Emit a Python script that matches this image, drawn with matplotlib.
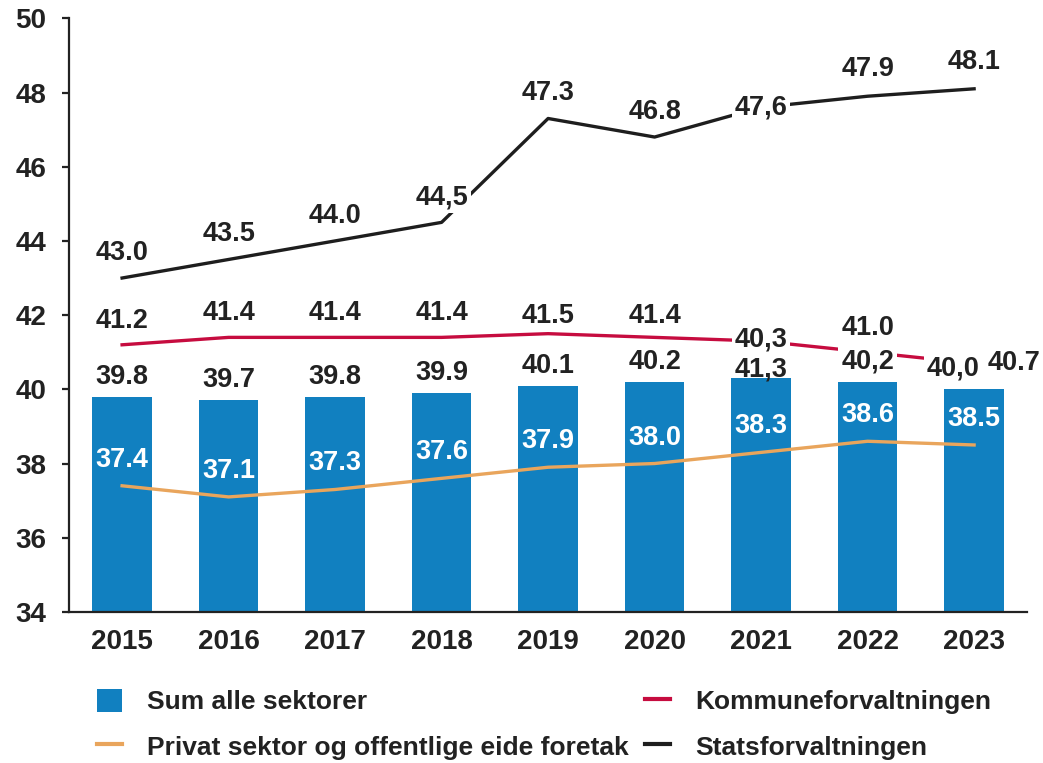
import numpy as np
import matplotlib
matplotlib.use("Agg")
import matplotlib.pyplot as plt
from matplotlib.patches import Patch
from matplotlib.lines import Line2D

# Data per year
years = ["2015", "2016", "2017", "2018", "2019", "2020", "2021", "2022", "2023"]
sum_alle = [39.8, 39.7, 39.8, 39.9, 40.1, 40.2, 40.3, 40.2, 40.0]
kommune = [41.2, 41.4, 41.4, 41.4, 41.5, 41.4, 41.3, 41.0, 40.7]
privat = [37.4, 37.1, 37.3, 37.6, 37.9, 38.0, 38.3, 38.6, 38.5]
stat = [43.0, 43.5, 44.0, 44.5, 47.3, 46.8, 47.6, 47.9, 48.1]

BLUE = "#1180c0"
RED = "#c60c3f"
ORANGE = "#e9a55c"
BLACK = "#1e1e1e"
TXT = "#222222"

plt.rcParams["font.family"] = ["Liberation Sans", "DejaVu Sans"]
plt.rcParams["font.weight"] = "bold"

fig = plt.figure(figsize=(10.43, 7.63), dpi=100)
ax = fig.add_axes([0.066, 0.198, 0.919, 0.778])

x = np.arange(len(years))
ax.bar(x, sum_alle, width=0.56, color=BLUE, zorder=2)
ax.plot(x, privat, color=ORANGE, lw=2.4, zorder=3)
ax.plot(x, kommune, color=RED, lw=2.4, zorder=3)
ax.plot(x, stat, color=BLACK, lw=2.4, zorder=3)

ax.set_xlim(-0.5, 8.5)
ax.set_ylim(34, 50)
ax.set_yticks(range(34, 51, 2))
ax.set_xticks(x)
ax.set_xticklabels(years)
for s in ["top", "right"]:
    ax.spines[s].set_visible(False)
for s in ["left", "bottom"]:
    ax.spines[s].set_linewidth(1.6)
    ax.spines[s].set_color(TXT)
ax.tick_params(axis="y", length=5, width=1.6, color=TXT, labelsize=20,
               labelcolor=TXT, pad=11)
ax.tick_params(axis="x", length=0, labelsize=20, labelcolor=TXT, pad=12)


def put_labels(values, offsets, comma, color, boxed=(), size=19.5):
    # offsets are (dx, dy) in pixels, dy positive upwards
    for i, v in enumerate(values):
        txt = f"{v:.1f}"
        if i in comma:
            txt = txt.replace(".", ",")
        dx, dy = offsets.get(i, offsets["default"])
        kw = {}
        if i in boxed:
            kw["bbox"] = dict(boxstyle="square,pad=0.1", fc="white", ec="none")
        ax.annotate(txt, (x[i], v), xytext=(dx * 0.72, dy * 0.72),
                    textcoords="offset points", ha="center", va="center",
                    fontsize=size, fontweight="bold", color=color,
                    zorder=5, **kw)


put_labels(sum_alle, {"default": (0, 20), 6: (0, 39), 7: (0, 20), 8: (-21, 21)},
           comma={6, 7, 8}, color=TXT, boxed={6, 7, 8})
put_labels(kommune, {"default": (0, 24), 4: (0, 18), 5: (0, 21), 6: (0, -28),
                     8: (40, 0)},
           comma={6}, color=TXT)
put_labels(privat, {"default": (0, 26)}, comma=set(), color="white")
put_labels(stat, {"default": (0, 25), 6: (0, 0), 7: (0, 27), 8: (0, 27)},
           comma={3, 6}, color=TXT, boxed={3, 6})

handles = [
    Patch(facecolor=BLUE, edgecolor="none"),
    Line2D([], [], color=ORANGE, lw=3),
    Line2D([], [], color=RED, lw=3),
    Line2D([], [], color=BLACK, lw=3),
]
names = ["Sum alle sektorer", "Privat sektor og offentlige eide foretak",
         "Kommuneforvaltningen", "Statsforvaltningen"]
fig.legend(handles, names, ncol=2, loc="upper left",
           bbox_to_anchor=(97 / 1043, 1 - 689 / 763), frameon=False,
           prop={"family": ["Liberation Sans"], "weight": "bold", "size": 19},
           labelcolor=TXT, handlelength=0.95, handleheight=0.95,
           handletextpad=0.95, columnspacing=0.6, labelspacing=0.75,
           borderaxespad=0, borderpad=0)

fig.savefig("out.png", dpi=100)
